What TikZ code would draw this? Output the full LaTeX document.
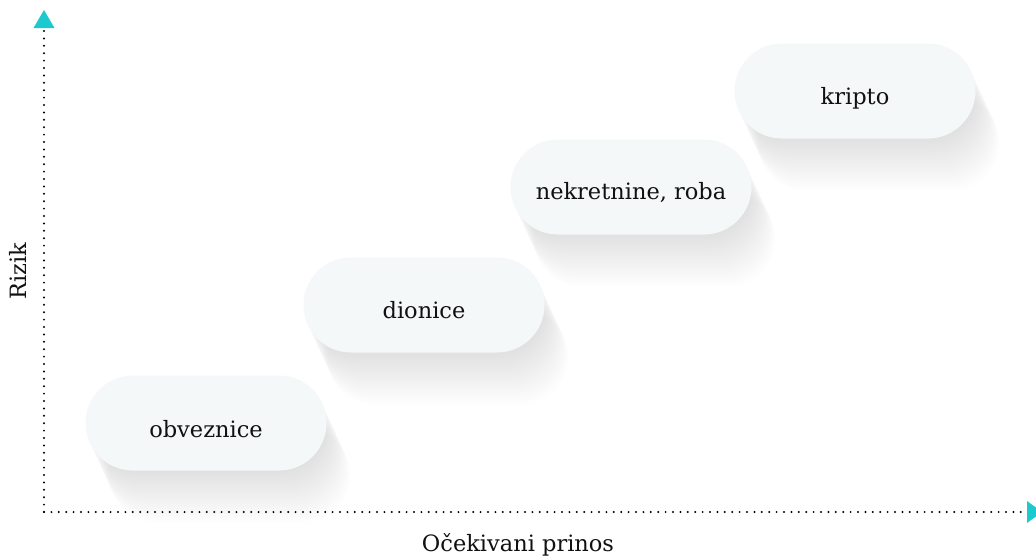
\documentclass[tikz,border=0pt]{standalone}
\usepackage{fontspec}
\setmainfont{DejaVu Serif}
\usetikzlibrary{arrows.meta}
\definecolor{pillfill}{HTML}{F5F8F9}
\definecolor{axiscyan}{HTML}{1CC9CF}
\definecolor{txt}{HTML}{111111}
\tikzset{
  pill/.style={rounded corners=47.5pt, fill=pillfill, draw=none},
  lbl/.style={font=\fontsize{22.5}{27}\selectfont, text=txt},
  axis/.style={line width=2.2pt, dash pattern=on 0pt off 7.4pt, line cap=round, black}
}
\newcommand{\mypill}[2]{% cx, cy
  \foreach \i in {1,...,30}{
    \fill[black, opacity=0.005, rounded corners=47.5pt]
      ({#1-120.5+\i*0.8},{#2-47.5+\i*1.75}) rectangle ++(241,95);
  }
}
\begin{document}
\begin{tikzpicture}[x=1pt,y=-1pt]
\useasboundingbox (0,0) rectangle (1036,557);
\fill[white] (0,0) rectangle (1036,557);
% shadows
\mypill{206}{423}
\mypill{424}{305}
\mypill{631}{187}
\mypill{855}{91}
% pills
\fill[pill] (85.5,375.5) rectangle ++(241,95);
\fill[pill] (303.5,257.5) rectangle ++(241,95);
\fill[pill] (510.5,139.5) rectangle ++(241,95);
\fill[pill] (734.5,43.5) rectangle ++(241,95);
\node[lbl] (obv) at (206,429) {obveznice};
\node[lbl] (dio) at (424,310) {dionice};
\node[lbl] (nek) at (631,192) {nekretnine, roba};
\node[lbl] (kri) at (855,98) {kripto};
% axes
\coordinate (o) at (44,512);
\coordinate (ytop) at (44,27);
\coordinate (xend) at (1027,512);
\draw[axis] (o) -- (ytop);
\draw[axis] (o) -- (xend);
\fill[axiscyan] (33.5,28) -- (54.5,28) -- (44,10) -- cycle;
\fill[axiscyan] (1027,501) -- (1027,523) -- (1042,512) -- cycle;
\node[lbl, rotate=90] (ry) at (18,271) {Rizik};
\node[lbl] (rx) at (518,545) {Očekivani prinos};
\end{tikzpicture}
\end{document}
